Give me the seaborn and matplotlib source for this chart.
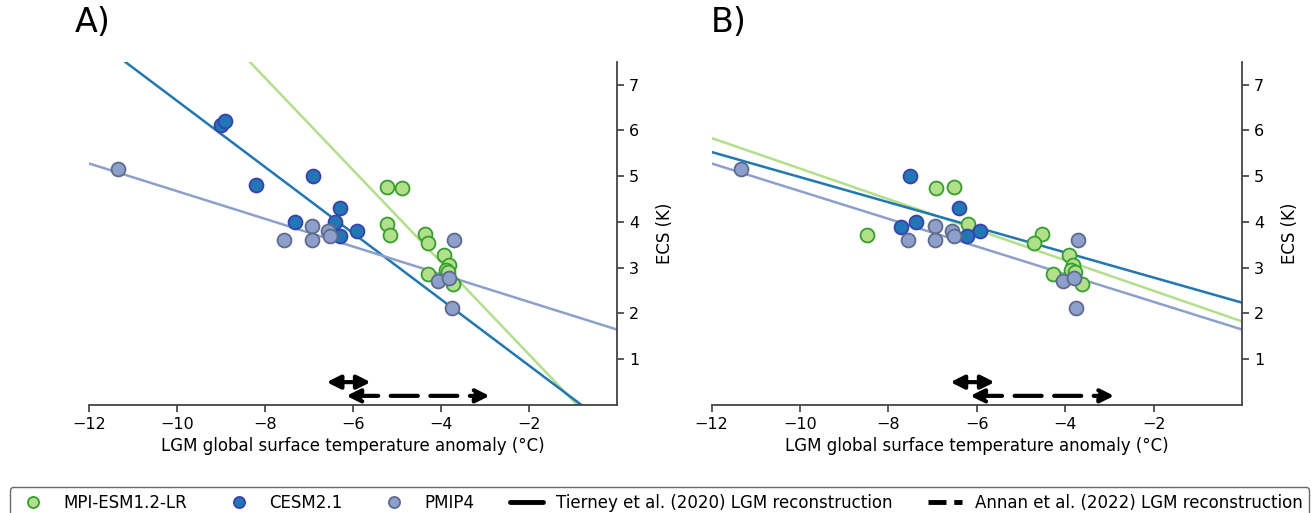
import numpy as np
import pandas as pd
import matplotlib
matplotlib.use('Agg')
import matplotlib.pyplot as plt
from matplotlib.lines import Line2D
import seaborn as sns

# ECS (K) per model run
mpi_ecs = [4.77, 4.74, 3.96, 3.72, 3.74, 3.54, 3.28, 3.07, 2.95, 2.90, 2.87, 2.64]
mpi_dT_a = [-5.24, -4.89, -5.24, -5.15, -4.36, -4.30, -3.94, -3.83, -3.90, -3.85, -4.30, -3.73]
mpi_dT_b = [-6.53, -6.93, -6.20, -8.49, -4.52, -4.71, -3.92, -3.83, -3.87, -3.78, -4.29, -3.62]

cesm_ecs_a = [6.11, 6.21, 4.81, 5.00, 4.00, 4.31, 4.00, 3.70, 3.80]
cesm_dT_a = [-9.01, -8.90, -8.20, -6.91, -7.31, -6.30, -6.42, -6.30, -5.92]
cesm_ecs_b = [5.00, 4.31, 4.00, 3.90, 3.70, 3.80]
cesm_dT_b = [-7.51, -6.40, -7.38, -7.72, -6.22, -5.94]

pmip_ecs = [5.15, 3.61, 3.91, 3.61, 3.80, 3.70, 3.61, 2.72, 2.77, 2.11]
pmip_dT = [-11.33, -7.56, -6.94, -6.94, -6.56, -6.52, -3.71, -4.06, -3.81, -3.75]

# LGM reconstructions (range in °C)
tierney_range = [-6.6, -5.6]
annan_range = [-6.15, -2.9]

series_names = ["MPI-ESM1.2-LR", "CESM2.1", "PMIP4"]
fill_colors = {"MPI-ESM1.2-LR": "#b2df8a", "CESM2.1": "#1f78b4", "PMIP4": "#8da0cb"}
edge_colors = {"MPI-ESM1.2-LR": "#33a02c", "CESM2.1": "#3a3fb5", "PMIP4": "#5f6b8c"}

sns.set_theme(style="ticks")
plt.rcParams['font.family'] = ['DejaVu Sans']
plt.rcParams.update({"text.color": "black", "axes.labelcolor": "black",
                     "xtick.color": "black", "ytick.color": "black"})


def make_frame(panel):
    rows = []
    mpi_x = mpi_dT_a if panel == "A" else mpi_dT_b
    cesm_x, cesm_y = (cesm_dT_a, cesm_ecs_a) if panel == "A" else (cesm_dT_b, cesm_ecs_b)
    for x, y in zip(mpi_x, mpi_ecs):
        rows.append(("MPI-ESM1.2-LR", x, y))
    for x, y in zip(cesm_x, cesm_y):
        rows.append(("CESM2.1", x, y))
    for x, y in zip(pmip_dT, pmip_ecs):
        rows.append(("PMIP4", x, y))
    return pd.DataFrame(rows, columns=["model", "dT", "ECS"])


def draw_panel(ax, df):
    ax.set_xlim(-12, 0)
    ax.set_ylim(0, 7.5)
    for name in series_names:
        sub = df[df.model == name]
        sns.regplot(data=sub, x="dT", y="ECS", ax=ax, scatter=False, ci=None,
                    truncate=False, color=fill_colors[name], line_kws={"lw": 1.8})
    for name in series_names:
        sub = df[df.model == name]
        ax.scatter(sub.dT, sub.ECS, s=100, color=fill_colors[name],
                   edgecolor=edge_colors[name], linewidth=1.3, zorder=3)
    ax.annotate("", xy=(tierney_range[1], 0.5), xytext=(tierney_range[0], 0.5),
                arrowprops=dict(arrowstyle="<|-|>", lw=3, color="black", mutation_scale=20,
                                shrinkA=0, shrinkB=0))
    ax.annotate("", xy=(annan_range[1], 0.2), xytext=(annan_range[0], 0.2),
                arrowprops=dict(arrowstyle="<|-|>", lw=3, ls=(0, (6.5, 3)), color="black",
                                mutation_scale=20, shrinkA=0, shrinkB=0))
    ax.set_xlim(-12, 0)
    ax.set_ylim(0, 7.5)
    ax.set_xticks([-12, -10, -8, -6, -4, -2])
    ax.set_xticklabels(["\u221212", "\u221210", "\u22128", "\u22126", "\u22124", "\u22122"])
    ax.set_yticks([1, 2, 3, 4, 5, 6, 7])
    ax.yaxis.tick_right()
    ax.yaxis.set_label_position("right")
    ax.spines["left"].set_visible(False)
    ax.spines["top"].set_visible(False)
    ax.spines["right"].set_visible(True)
    for s in ("right", "bottom"):
        ax.spines[s].set_color("#444444")
        ax.spines[s].set_linewidth(1.3)
    ax.tick_params(labelsize=11.5, length=5, color="#444444")
    ax.set_xlabel("LGM global surface temperature anomaly (°C)", fontsize=12)
    ax.set_ylabel("ECS (K)", fontsize=12, labelpad=12)


fig = plt.figure(figsize=(13.14, 5.13), dpi=100)
ax_a = fig.add_axes([0.0677, 0.2105, 0.402, 0.669])
ax_b = fig.add_axes([0.5415, 0.2105, 0.404, 0.669])

draw_panel(ax_a, make_frame("A"))
draw_panel(ax_b, make_frame("B"))

fig.text(0.057, 0.957, "A)", fontsize=24, va="center", ha="left")
fig.text(0.541, 0.957, "B)", fontsize=24, va="center", ha="left")

handles = [Line2D([], [], ls="none", marker="o", markersize=8,
                  markerfacecolor=fill_colors[n], markeredgecolor=edge_colors[n],
                  markeredgewidth=1.3) for n in series_names]
handles.append(Line2D([], [], color="black", lw=3.5))
handles.append(Line2D([], [], color="black", lw=3.5, ls="--"))
labels = series_names + ["Tierney et al. (2020) LGM reconstruction",
                         "Annan et al. (2022) LGM reconstruction"]
fig.legend(handles, labels, loc="upper center", bbox_to_anchor=(0.502, 0.051), ncol=5,
           fontsize=12, frameon=True, edgecolor="#444444", fancybox=True,
           columnspacing=2.12, handlelength=2.0, borderaxespad=0)

fig.savefig("out.png", dpi=100)
